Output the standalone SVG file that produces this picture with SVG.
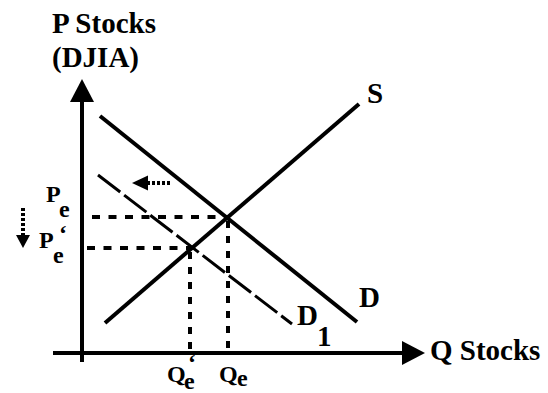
<svg xmlns="http://www.w3.org/2000/svg" width="548" height="393" viewBox="0 0 548 393">
<style>
.ax{stroke:#000;stroke-width:4;fill:none}
.curve{stroke:#000;stroke-width:4;fill:none}
.d1{stroke:#000;stroke-width:3;fill:none;stroke-dasharray:28 5}
.gh{stroke:#000;stroke-width:4;fill:none;stroke-dasharray:8 8.5}
.gv{stroke:#000;stroke-width:4;fill:none;stroke-dasharray:7 8}
.dot{stroke:#000;stroke-width:4;fill:none;stroke-dasharray:3 2}
</style>
<rect width="548" height="393" fill="#fff"/>
<g id="connectors">
  <g id="axes">
    <line class="ax" x1="82" y1="100" x2="82" y2="362"/>
    <polygon points="82,79 70,102 94,102" fill="#000"/>
    <line class="ax" x1="53" y1="353" x2="404" y2="353"/>
    <polygon points="425,353 402,341 402,365" fill="#000"/>
  </g>
  <line id="curve-S" class="curve" x1="105" y1="323" x2="359" y2="104"/>
  <line id="curve-D" class="curve" x1="100" y1="116" x2="357" y2="322"/>
  <line id="curve-D1" class="d1" x1="98" y1="175" x2="292" y2="324"/>
  <line id="guide-Pe" class="gh" x1="92" y1="217" x2="228" y2="217"/>
  <line id="guide-Pe2" class="gh" x1="87" y1="248" x2="190" y2="248"/>
  <line id="guide-Qe" class="gv" x1="228" y1="221" x2="228" y2="353"/>
  <line id="guide-Qe2" class="gv" x1="190" y1="252" x2="190" y2="353"/>
  <g id="shift-arrow">
    <line class="dot" x1="147" y1="183" x2="170" y2="183"/>
    <polygon points="132,183 148,175.5 148,190.5" fill="#000"/>
  </g>
  <g id="price-arrow">
    <line class="dot" x1="23" y1="208" x2="23" y2="236"/>
    <polygon points="23,248 16,235 30,235" fill="#000"/>
  </g>
</g>
<g id="labels" font-weight="bold" fill="#000">
<g id="label-P-axis" font-size="29"><text style="font-family:'Liberation Serif',serif" x="52" y="33">P Stocks</text><text style="font-family:'Liberation Serif',serif" x="52" y="67">(DJIA)</text></g>
<g id="label-Q-axis" font-size="29"><text style="font-family:'Liberation Serif',serif" x="430" y="360">Q Stocks</text></g>
<g id="label-S" font-size="29"><text style="font-family:'Liberation Serif',serif" x="367" y="103">S</text></g>
<g id="label-D" font-size="29"><text style="font-family:'Liberation Serif',serif" x="359" y="307">D</text></g>
<g id="label-D1" font-size="29"><text style="font-family:'Liberation Serif',serif" x="297" y="325">D<tspan x="317" y="346">1</tspan></text></g>
<g id="label-Pe" font-size="24"><text style="font-family:'Liberation Serif',serif" x="46" y="202">P<tspan x="59" y="217">e</tspan></text></g>
<g id="label-Pe2" font-size="24"><text style="font-family:'Liberation Serif',serif" x="39" y="248">P<tspan x="59" y="241">‘</tspan><tspan x="53" y="263">e</tspan></text></g>
<g id="label-Qe2" font-size="24"><text style="font-family:'Liberation Serif',serif" x="167" y="382">Q<tspan x="188" y="370">‘</tspan><tspan x="184" y="389">e</tspan></text></g>
<g id="label-Qe" font-size="24"><text style="font-family:'Liberation Serif',serif" x="219" y="382">Q<tspan x="237" y="386">e</tspan></text></g>
</g>
</svg>
